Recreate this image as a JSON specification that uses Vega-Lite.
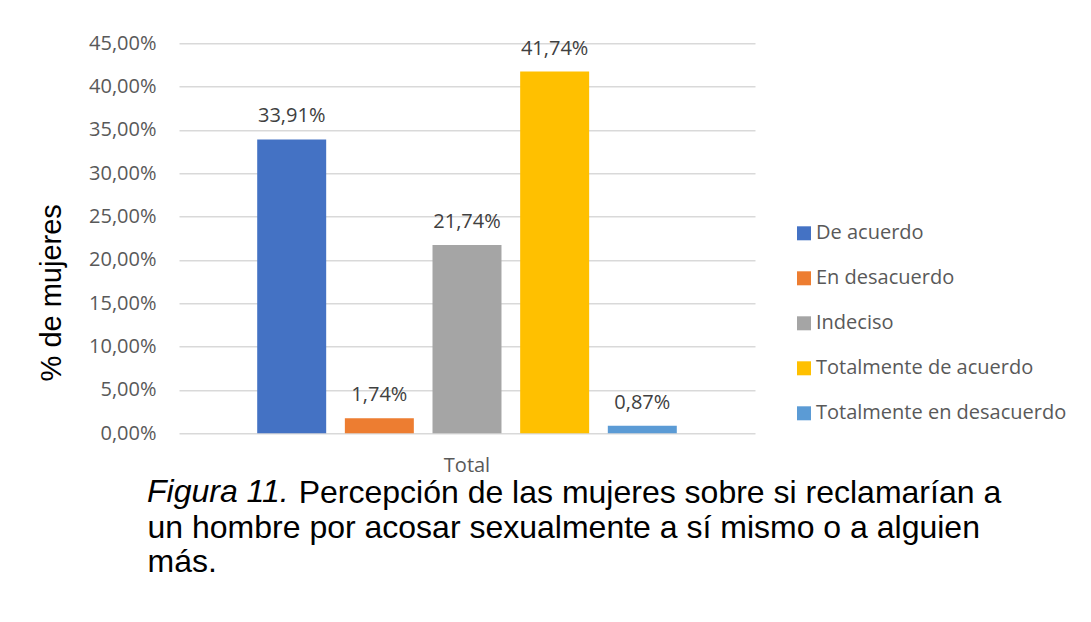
{
  "$schema": "https://vega.github.io/schema/vega-lite/v6.json",
  "width": 576,
  "height": 390,
  "autosize": {"type": "none"},
  "padding": {"left": 179, "top": 43.3, "right": 336, "bottom": 188.7},
  "background": "white",
  "config": {
    "locale": {"number": {"decimal": ",", "thousands": ".", "grouping": [3], "currency": ["", " €"]}},
    "view": {"stroke": null},
    "font": "Open Sans"
  },
  "title": {
    "text": "Figura 11.",
    "orient": "bottom",
    "anchor": "start",
    "frame": "group",
    "font": "Liberation Sans",
    "fontSize": 32,
    "fontStyle": "italic",
    "fontWeight": "normal",
    "color": "#000000",
    "baseline": "alphabetic",
    "offset": 0,
    "dx": -32,
    "dy": -76
  },
  "data": {
    "values": [
      {"grupo": "Total", "respuesta": "De acuerdo", "porcentaje": 0.3391},
      {"grupo": "Total", "respuesta": "En desacuerdo", "porcentaje": 0.0174},
      {"grupo": "Total", "respuesta": "Indeciso", "porcentaje": 0.2174},
      {"grupo": "Total", "respuesta": "Totalmente de acuerdo", "porcentaje": 0.4174},
      {"grupo": "Total", "respuesta": "Totalmente en desacuerdo", "porcentaje": 0.0087}
    ]
  },
  "encoding": {
    "x": {
      "field": "grupo",
      "type": "nominal",
      "scale": {"paddingInner": 0, "paddingOuter": 0.157},
      "axis": {
        "title": [
          "\u200b\u00a0\u00a0\u00a0\u00a0\u00a0\u00a0\u00a0\u00a0\u00a0\u00a0\u00a0\u00a0\u00a0\u00a0\u00a0\u00a0\u00a0Percepción de las mujeres sobre si reclamarían a",
          "un hombre por acosar sexualmente a sí mismo o a alguien",
          "más."
        ],
        "labelAngle": 0,
        "domain": false,
        "ticks": false,
        "labelFont": "Open Sans",
        "labelFontSize": 20,
        "labelColor": "#595959",
        "labelPadding": 22,
        "titleFont": "Liberation Sans",
        "titleFontSize": 32,
        "titleFontWeight": "normal",
        "titleColor": "#000000",
        "titleAnchor": "start",
        "titleAlign": "left",
        "titleBaseline": "alphabetic",
        "titleX": -32,
        "titleY": 69.4,
        "titleLineHeight": 34.5
      }
    },
    "xOffset": {
      "field": "respuesta",
      "type": "nominal",
      "scale": {"paddingInner": 0.213, "paddingOuter": 0.107}
    },
    "y": {
      "field": "porcentaje",
      "type": "quantitative",
      "scale": {"domain": [0, 0.45], "nice": false},
      "axis": {
        "title": "% de mujeres",
        "values": [0, 0.05, 0.1, 0.15, 0.2, 0.25, 0.3, 0.35, 0.4, 0.45],
        "format": ".2%",
        "domain": false,
        "ticks": false,
        "gridColor": "#D9D9D9",
        "gridWidth": 1.5,
        "labelFont": "Open Sans",
        "labelFontSize": 20,
        "labelColor": "#595959",
        "labelPadding": 23,
        "titleFont": "Liberation Sans",
        "titleFontSize": 29,
        "titleFontWeight": "normal",
        "titleColor": "#000000",
        "titleAngle": -90,
        "titleAlign": "center",
        "titleBaseline": "alphabetic",
        "titleX": -119,
        "titleY": 249
      }
    }
  },
  "layer": [
    {
      "mark": {"type": "bar"},
      "encoding": {
        "color": {
          "field": "respuesta",
          "type": "nominal",
          "scale": {
            "domain": ["De acuerdo", "En desacuerdo", "Indeciso", "Totalmente de acuerdo", "Totalmente en desacuerdo"],
            "range": ["#4472C4", "#ED7D31", "#A5A5A5", "#FFC000", "#5B9BD5"]
          },
          "legend": {
            "title": null,
            "orient": "none",
            "legendX": 615,
            "legendY": 180,
            "symbolType": "square",
            "symbolSize": 196,
            "symbolStrokeWidth": 0,
            "symbolOpacity": 1,
            "labelFont": "Open Sans",
            "labelFontSize": 20,
            "labelColor": "#595959",
            "labelOffset": 2,
            "labelLimit": 400,
            "rowPadding": 25,
            "padding": 0
          }
        }
      }
    },
    {
      "mark": {"type": "text", "baseline": "alphabetic", "dy": -17, "fontSize": 20, "font": "Open Sans", "color": "#404040"},
      "encoding": {
        "text": {"field": "porcentaje", "type": "quantitative", "format": ".2%"}
      }
    }
  ]
}
